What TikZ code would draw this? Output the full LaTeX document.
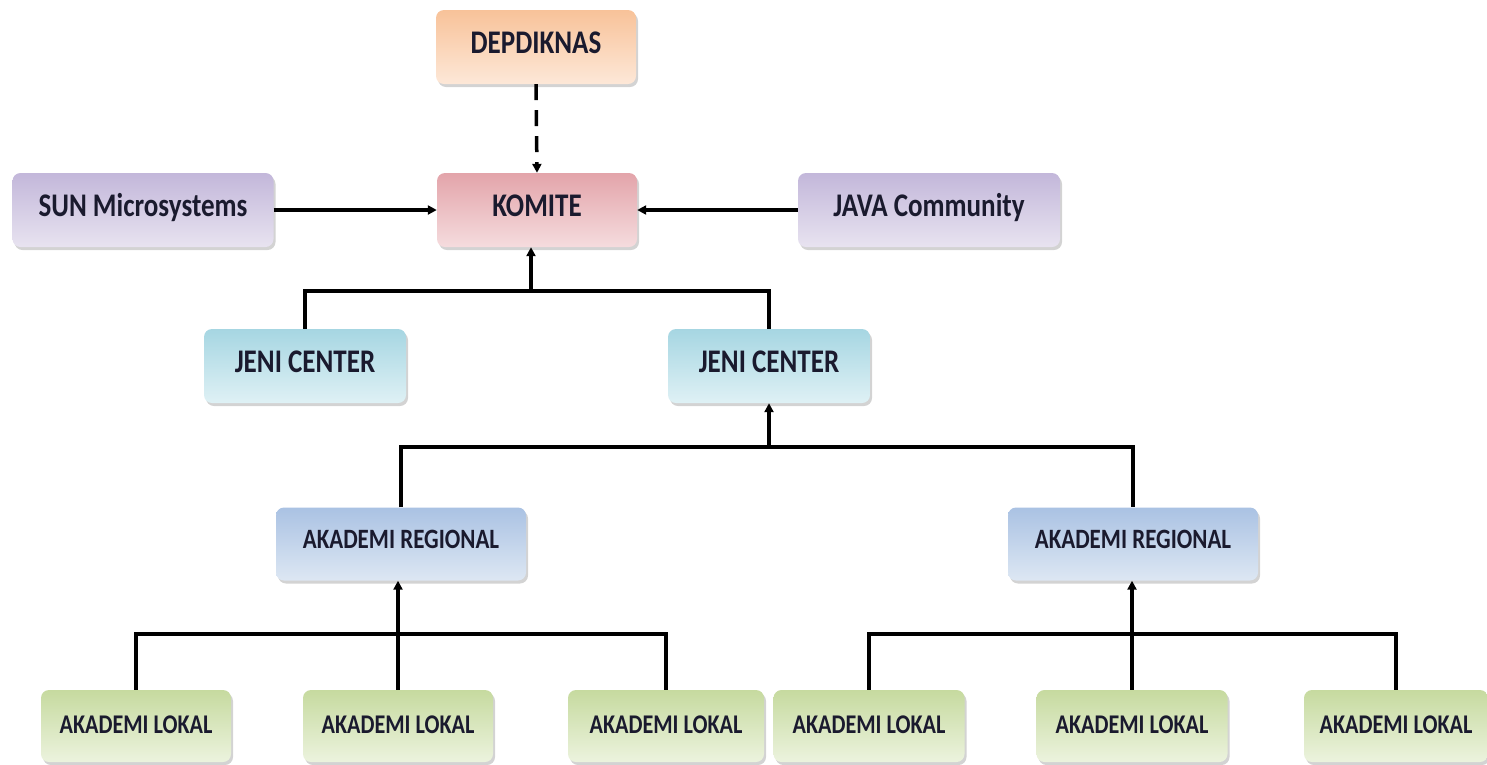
\documentclass[tikz,border=0pt]{standalone}
\usepackage{fontspec}
\setmainfont{Carlito}[FakeStretch=0.82]
\usetikzlibrary{shadows,arrows.meta}
\definecolor{orTop}{HTML}{F8C299}
\definecolor{orBot}{HTML}{FDE8D8}
\definecolor{rdTop}{HTML}{E3A4AA}
\definecolor{rdBot}{HTML}{F5DCDE}
\definecolor{puTop}{HTML}{C3B7DA}
\definecolor{puBot}{HTML}{E8E3F0}
\definecolor{cyTop}{HTML}{A6D6E2}
\definecolor{cyBot}{HTML}{DFF1F5}
\definecolor{blTop}{HTML}{AAC2E3}
\definecolor{blBot}{HTML}{DDE7F3}
\definecolor{grTop}{HTML}{C6DA9F}
\definecolor{grBot}{HTML}{ECF3DE}
\definecolor{txt}{HTML}{1A1A2E}
\tikzset{
  box/.style={rounded corners=8pt, draw=none, minimum height=74pt, inner sep=0pt,
    drop shadow={shadow xshift=2pt, shadow yshift=-3pt, opacity=.35},
    font=\bfseries\fontsize{33}{38}\selectfont, text=txt,
    text height=21pt, text depth=9pt},
  regbox/.style={box, font=\bfseries\fontsize{28}{32}\selectfont,
    text height=18pt, text depth=10pt},
  lokbox/.style={box, font=\bfseries\fontsize{27}{32}\selectfont,
    text height=17pt, text depth=2pt},
  orange/.style={top color=orTop, bottom color=orBot},
  red/.style={top color=rdTop, bottom color=rdBot},
  purple/.style={top color=puTop, bottom color=puBot},
  cyan/.style={top color=cyTop, bottom color=cyBot},
  blue/.style={top color=blTop, bottom color=blBot},
  green/.style={top color=grTop, bottom color=grBot},
  conn/.style={line width=3.5pt, black},
  arr/.style={conn, -{Triangle[length=9pt,width=9pt]}},
}
\begin{document}
\begin{tikzpicture}[x=1pt,y=-1pt]
\useasboundingbox (0,0) rectangle (1487,764);
% top
\node[box, orange, minimum width=200pt] (dep) at (536,47) {DEPDIKNAS};
\node[box, red, minimum width=200pt] (kom) at (537,210) {KOMITE};
\node[box, purple, minimum width=261pt] (sun) at (143,210) {SUN Microsystems};
\node[box, purple, minimum width=262pt] (java) at (929,210) {JAVA Community};
\node[box, cyan, minimum width=202pt] (jeni1) at (305,366) {JENI CENTER};
\node[box, cyan, minimum width=202pt] (jeni2) at (769,366) {JENI CENTER};
\node[regbox, blue, minimum width=250pt, minimum height=73pt] (reg1) at (401,544) {AKADEMI REGIONAL};
\node[regbox, blue, minimum width=250pt, minimum height=73pt] (reg2) at (1133,544) {AKADEMI REGIONAL};
\node[lokbox, green, minimum width=190pt, minimum height=72pt] (lok1) at (136,726) {AKADEMI LOKAL};
\node[lokbox, green, minimum width=190pt, minimum height=72pt] (lok2) at (398,726) {AKADEMI LOKAL};
\node[lokbox, green, minimum width=196pt, minimum height=72pt] (lok3) at (666,726) {AKADEMI LOKAL};
\node[lokbox, green, minimum width=191pt, minimum height=72pt] (lok4) at (869,726) {AKADEMI LOKAL};
\node[lokbox, green, minimum width=191pt, minimum height=72pt] (lok5) at (1132,726) {AKADEMI LOKAL};
\node[lokbox, green, minimum width=184pt, minimum height=72pt] (lok6) at (1396,726) {AKADEMI LOKAL};
% bus coordinates
\coordinate (bus1) at (531,291);
\coordinate (bus2) at (769,447);
\coordinate (bus3) at (400,634);
\coordinate (bus4) at (1132,634);
% connectors
\draw[arr, dashed, dash pattern=on 16pt off 10pt] (dep.south) -- (kom.north);
\draw[arr] (sun.east) -- (kom.west);
\draw[arr] (java.west) -- (kom.east);
\draw[conn] (jeni1.north) |- (bus1) -| (jeni2.north);
\draw[arr] (bus1) -- (bus1 |- kom.south);
\draw[conn] (reg1.north) |- (bus2) -| (reg2.north);
\draw[arr] (bus2) -- (jeni2.south);
\draw[conn] (lok1.north) |- (bus3) -| (lok3.north);
\draw[arr] (lok2.north) -- (lok2.north |- reg1.south);
\draw[conn] (lok4.north) |- (bus4) -| (lok6.north);
\draw[arr] (lok5.north) -- (lok5.north |- reg2.south);
\end{tikzpicture}
\end{document}
